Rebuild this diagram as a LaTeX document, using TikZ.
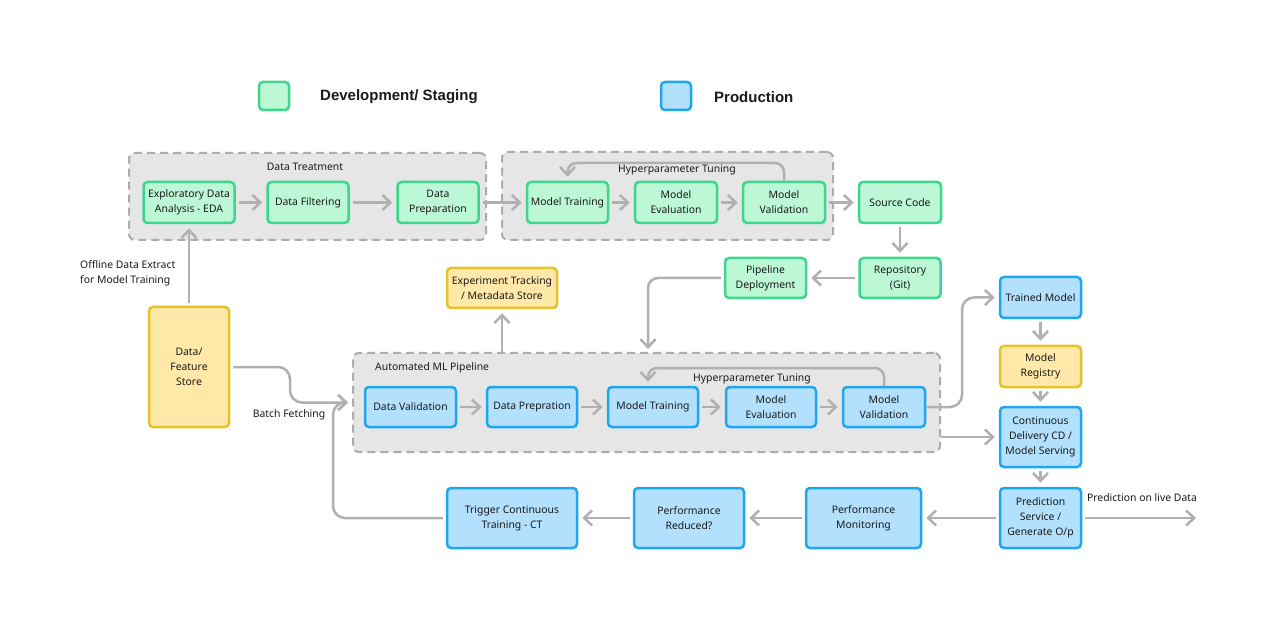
\documentclass[tikz,border=0pt]{standalone}
\usepackage{fontspec}
\setmainfont{Noto Sans}
\newfontfamily\legfont{Liberation Sans}
\usetikzlibrary{arrows.meta,calc}
\definecolor{gfill}{HTML}{BDF8D6}
\definecolor{gline}{HTML}{3DD68C}
\definecolor{bfill}{HTML}{B3E0FD}
\definecolor{bline}{HTML}{1EA7EE}
\definecolor{yfill}{HTML}{FFE8A8}
\definecolor{yline}{HTML}{E3C22B}
\definecolor{grpfill}{HTML}{E6E6E6}
\definecolor{grpline}{HTML}{ACACAC}
\definecolor{conncol}{HTML}{B0B0B0}
\definecolor{txt}{HTML}{1A1A1A}
\begin{document}
\begin{tikzpicture}[x=1pt,y=-1pt,
 box/.style={rectangle, rounded corners=4pt, line width=2.5pt, align=center, text=txt, font=\fontsize{10.4}{15}\selectfont, inner sep=0pt},
 dev/.style={box, draw=gline, fill=gfill},
 prod/.style={box, draw=bline, fill=bfill},
 meta/.style={box, draw=yline, fill=yfill},
 grp/.style={rectangle, rounded corners=6pt, draw=grpline, fill=grpfill, line width=2pt, dash pattern=on 8pt off 5pt, inner sep=0pt},
 conn/.style={draw=conncol, line width=2.5pt, -{Straight Barb[length=8pt,width=15pt]}, shorten >=4pt, shorten <=3pt},
 lbl/.style={text=txt, font=\fontsize{10.4}{15}\selectfont, inner sep=0pt},
 leg/.style={text=txt, font=\legfont\bfseries\fontsize{15}{17}\selectfont, inner sep=0pt, anchor=west}]
\fill[white] (0,0) rectangle (1280,628);
\useasboundingbox (0,0) rectangle (1280,628);

% legend
\node[dev, minimum width=30pt, minimum height=28pt] (lg1) at (274,96) {};
\node[leg] (lg1t) at (320,97) {Development/ Staging};
\node[prod, minimum width=30pt, minimum height=28pt] (lg2) at (676,96) {};
\node[leg] (lg2t) at (714,97) {Production};

% groups
\node[grp, minimum width=357pt, minimum height=87pt] (gDT) at (307.5,196.5) {};
\node[grp, minimum width=331pt, minimum height=88pt] (gHP) at (667.5,196) {};
\node[grp, minimum width=587pt, minimum height=99pt] (gML) at (646.5,402.5) {};
\node[lbl] (gDTt) at (305,167) {Data Treatment};
\node[lbl] (gMLt) [anchor=west] at (375,368) {Automated ML Pipeline};

% development nodes
\node[dev, minimum width=91pt, minimum height=41pt] (eda) at (189,202.5) {Exploratory Data\\Analysis - EDA};
\node[dev, minimum width=81pt, minimum height=41pt] (filt) at (308,202.5) {Data Filtering};
\node[dev, minimum width=81pt, minimum height=41pt] (prep) at (438,202.5) {Data\\Preparation};
\node[dev, minimum width=81pt, minimum height=41pt] (mtrain1) at (567.5,202.5) {Model Training};
\node[dev, minimum width=82pt, minimum height=41pt] (meval1) at (676,202.5) {Model\\Evaluation};
\node[dev, minimum width=82pt, minimum height=41pt] (mval1) at (784,202.5) {Model\\Validation};
\node[dev, minimum width=82pt, minimum height=41pt] (src) at (900,202.5) {Source Code};
\node[dev, minimum width=81pt, minimum height=40pt] (repo) at (900,278) {Repository\\(Git)};
\node[dev, minimum width=81pt, minimum height=40pt] (pdep) at (765.5,278) {Pipeline\\Deployment};

% meta nodes
\node[meta, minimum width=110pt, minimum height=40pt] (exp) at (502,288) {Experiment Tracking\\/ Metadata Store};
\node[meta, minimum width=80pt, minimum height=120pt] (store) at (189,367) {Data/\\Feature\\Store};
\node[meta, minimum width=81pt, minimum height=41pt] (registry) at (1040.5,366.5) {Model\\Registry};

% production nodes
\node[prod, minimum width=91pt, minimum height=40pt] (dval) at (410.5,407) {Data Validation};
\node[prod, minimum width=90pt, minimum height=40pt] (dprep) at (532,407) {Data Prepration};
\node[prod, minimum width=90pt, minimum height=40pt] (mtrain2) at (653,407) {Model Training};
\node[prod, minimum width=90pt, minimum height=40pt] (meval2) at (771,407) {Model\\Evaluation};
\node[prod, minimum width=82pt, minimum height=40pt] (mval2) at (884,407) {Model\\Validation};
\node[prod, minimum width=81pt, minimum height=41pt] (trained) at (1040.5,297.5) {Trained Model};
\node[prod, minimum width=81pt, minimum height=60pt] (cd) at (1040.5,437) {Continuous\\Delivery CD /\\Model Serving};
\node[prod, minimum width=81pt, minimum height=60pt] (pred) at (1040.5,518) {Prediction\\Service /\\Generate O/p};
\node[prod, minimum width=130pt, minimum height=60pt] (trigger) at (512,518) {Trigger Continuous\\Training - CT};
\node[prod, minimum width=110pt, minimum height=60pt] (preduced) at (689,518) {Performance\\Reduced?};
\node[prod, minimum width=115pt, minimum height=60pt] (pmon) at (863.5,518) {Performance\\Monitoring};

% labels
\node[lbl] (hp1t) at (677,170) {Hyperparameter Tuning};
\node[lbl] (hp2t) at (752,379) {Hyperparameter Tuning};
\node[lbl, align=left, anchor=west] (offt) at (80,273.5) {Offline Data Extract\\for Model Training};
\node[lbl] (bft) at (289,415) {Batch Fetching};
\node[lbl] (plt) at (1142,498) {Prediction on live Data};

% helper coordinates
\coordinate (hp1) at (676,163);
\coordinate (hp2) at (766,368);
\coordinate (bfc) at (290,402.5);
\coordinate (ctc) at (333,402.5);
\coordinate (pdc) at (648,353);
\coordinate (tmc) at (962,297.5);
\coordinate (out) at (1200,518);

% connectors - top row
\draw[conn] (eda) -- (filt);
\draw[conn] (filt) -- (prep);
\draw[conn] (prep) -- (mtrain1);
\draw[conn] (mtrain1) -- (meval1);
\draw[conn] (meval1) -- (mval1);
\draw[conn] (mval1) -- (src);
\draw[conn, rounded corners=9pt, shorten <=0pt] (mval1.north) |- (hp1) -| ([yshift=0pt]mtrain1.north);
\draw[conn] (src) -- (repo);
\draw[conn] (repo) -- (pdep);
\draw[conn, rounded corners=10pt] (pdep.west) -| (pdc);
\draw[conn] (store.north) -- (eda.south);
\draw[conn, shorten <=0pt] (exp.south |- gML.north) -- (exp.south);
\draw[conn, rounded corners=12pt] (store.east) -| (bfc) -- (gML.west);
\draw[conn, rounded corners=12pt] (trigger.west) -| (ctc) -- (gML.west);

% pipeline row
\draw[conn] (dval) -- (dprep);
\draw[conn] (dprep) -- (mtrain2);
\draw[conn] (mtrain2) -- (meval2);
\draw[conn] (meval2) -- (mval2);
\draw[conn, rounded corners=9pt, shorten <=0pt] (mval2.north) |- (hp2) -| ([xshift=-5pt]mtrain2.north);
\draw[conn, rounded corners=12pt, shorten <=0pt] (mval2.east) -| (tmc) -- (trained.west);
\draw[conn, shorten <=0pt] (cd.west -| gML.east) -- (cd.west);

% right column
\draw[conn] (trained) -- (registry);
\draw[conn] (registry) -- (cd);
\draw[conn] (cd) -- (pred);
\draw[conn] (pred.east) -- (out);

% bottom row
\draw[conn] (pred) -- (pmon);
\draw[conn] (pmon) -- (preduced);
\draw[conn] (preduced) -- (trigger);
\end{tikzpicture}
\end{document}
